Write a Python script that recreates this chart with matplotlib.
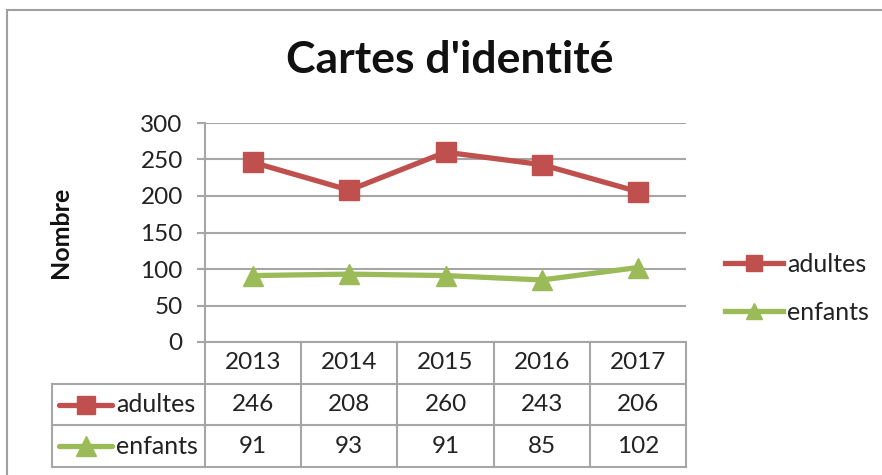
import numpy as np
import matplotlib
matplotlib.use("Agg")
import matplotlib.pyplot as plt
from matplotlib.patches import Rectangle

years = ["2013", "2014", "2015", "2016", "2017"]
adultes = [246, 208, 260, 243, 206]
enfants = [91, 93, 91, 85, 102]
series_names = ["adultes", "enfants"]

red = "#C0504D"
green = "#9BBB59"
grey = "#A6A6A6"
txt = "#222222"
plt.rcParams["font.family"] = ["Lato", "DejaVu Sans"]

W, H = 882, 475
fig = plt.figure(figsize=(W / 100, H / 100), dpi=100)


def fx(px):
    return px / W


def fy(py):
    return 1 - py / H


# outer chart frame (cut off at right and bottom)
fig.patches.append(Rectangle((fx(7), -0.2), 2, fy(10) + 0.2, transform=fig.transFigure,
                             fill=False, edgecolor="#A0A0A0", lw=1.5))

ax = fig.add_axes([fx(205), fy(342), fx(686) - fx(205), fy(123) - fy(342)])
x = np.arange(len(years))
ax.plot(x, adultes, color=red, lw=3.8, marker="s", ms=14, label=series_names[0], clip_on=False)
ax.plot(x, enfants, color=green, lw=3.8, marker="^", ms=15, label=series_names[1], clip_on=False)
ax.set_xlim(-0.5, len(years) - 0.5)
ax.set_ylim(0, 300)
ax.set_yticks(range(0, 301, 50))
ax.set_xticks([])
ax.yaxis.grid(True, color=grey, lw=1.5)
ax.set_axisbelow(True)
for s in ["top", "right"]:
    ax.spines[s].set_visible(False)
for s in ["left", "bottom"]:
    ax.spines[s].set_color(grey)
    ax.spines[s].set_linewidth(1.5)
ax.tick_params(axis="y", length=6, width=1.5, color=grey, labelsize=17.5, pad=10, labelcolor=txt)

fig.text(fx(60), fy(232), "Nombre", rotation=90, ha="center", va="center",
         fontsize=18, fontweight="bold", color="#111111")
fig.text(fx(450), fy(60), "Cartes d'identité", ha="center", va="center",
         fontsize=32, fontweight="bold", color="#111111")

leg = ax.legend(loc="center left", bbox_to_anchor=(fx(725), fy(288)), bbox_transform=fig.transFigure,
                frameon=False, fontsize=18, handlelength=2.3, handletextpad=0.2, labelspacing=1.0,
                borderpad=0, borderaxespad=0, markerscale=0.8)
for t in leg.get_texts():
    t.set_color(txt)

# data table under the plot
n = len(years)
label_w = (205 - 52) / (686 - 205) * n
tax = fig.add_axes([fx(52), fy(467), fx(686) - fx(52), fy(342) - fy(467)])
tax.set_xlim(-0.5 - label_w, n - 0.5)
tax.set_ylim(3, 0)
tax.axis("off")
lk = dict(color=grey, lw=1.5, clip_on=False)
left = -0.5 - label_w
for r in [1, 2, 3]:
    tax.plot([left, n - 0.5], [r, r], **lk)
tax.plot([left, left], [1, 3], **lk)
for k in range(n + 1):
    tax.plot([k - 0.5, k - 0.5], [0, 3], **lk)
for i, yr in enumerate(years):
    tax.text(i, 0.5, yr, ha="center", va="center", fontsize=17.5, color=txt)
    tax.text(i, 1.5, str(adultes[i]), ha="center", va="center", fontsize=17.5, color=txt)
    tax.text(i, 2.5, str(enfants[i]), ha="center", va="center", fontsize=17.5, color=txt)

units = label_w / (205 - 52)
for row, name, col, mk, ms in [(1.5, series_names[0], red, "s", 13.5), (2.5, series_names[1], green, "^", 14)]:
    x0 = left + (59 - 52) * units
    x1 = left + (112 - 52) * units
    tax.plot([x0, x1], [row, row], color=col, lw=3.8, solid_capstyle="round")
    tax.plot([(x0 + x1) / 2], [row], marker=mk, ms=ms, color=col)
    tax.text(left + (116 - 52) * units, row, name, ha="left", va="center", fontsize=18, color=txt)

fig.savefig("out.png", dpi=100)
